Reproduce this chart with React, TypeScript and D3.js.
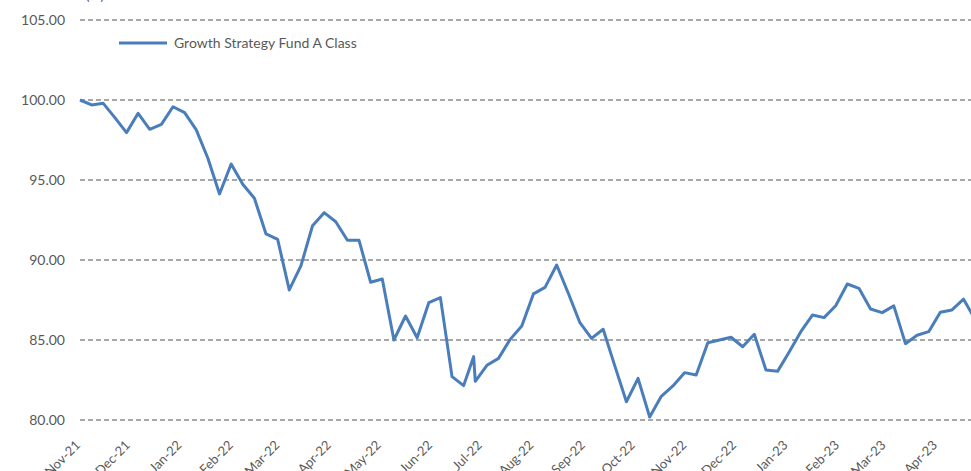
import React, { useEffect, useRef } from 'react';
import * as d3 from 'd3';

// Weekly fund values (indexed to 100 at start)
const dates = [
  '2021-11-05', '2021-11-12', '2021-11-19', '2021-11-26', '2021-12-03', '2021-12-10', '2021-12-17', '2021-12-24',
  '2021-12-31', '2022-01-07', '2022-01-14', '2022-01-21', '2022-01-28', '2022-02-04', '2022-02-11', '2022-02-18',
  '2022-02-25', '2022-03-04', '2022-03-11', '2022-03-18', '2022-03-25', '2022-04-01', '2022-04-08', '2022-04-15',
  '2022-04-22', '2022-04-29', '2022-05-06', '2022-05-13', '2022-05-20', '2022-05-27', '2022-06-03', '2022-06-10',
  '2022-06-17', '2022-06-24', '2022-06-30', '2022-07-01', '2022-07-08', '2022-07-15', '2022-07-22', '2022-07-29',
  '2022-08-05', '2022-08-12', '2022-08-19', '2022-08-26', '2022-09-02', '2022-09-09', '2022-09-16', '2022-09-23',
  '2022-09-30', '2022-10-07', '2022-10-14', '2022-10-21', '2022-10-28', '2022-11-04', '2022-11-11', '2022-11-18',
  '2022-11-25', '2022-12-02', '2022-12-09', '2022-12-16', '2022-12-23', '2022-12-30', '2023-01-06', '2023-01-13',
  '2023-01-20', '2023-01-27', '2023-02-03', '2023-02-10', '2023-02-17', '2023-02-24', '2023-03-03', '2023-03-10',
  '2023-03-17', '2023-03-24', '2023-03-31', '2023-04-07', '2023-04-14', '2023-04-21', '2023-04-28',
];

const fundValues = [
  100.0, 99.69, 99.79, 98.9, 97.96, 99.17, 98.17, 98.48,
  99.58, 99.21, 98.13, 96.36, 94.13, 96.0, 94.73, 93.86,
  91.63, 91.29, 88.13, 89.63, 92.14, 92.96, 92.39, 91.23,
  91.23, 88.61, 88.81, 85.0, 86.5, 85.14, 87.33, 87.65,
  82.71, 82.15, 83.96, 82.42, 83.42, 83.85, 85.04, 85.88,
  87.88, 88.29, 89.69, 87.92, 86.08, 85.1, 85.67, 83.38,
  81.14, 82.6, 80.19, 81.48, 82.13, 82.96, 82.81, 84.83,
  85.0, 85.17, 84.58, 85.36, 83.13, 83.04, 84.25, 85.52,
  86.56, 86.4, 87.14, 88.5, 88.23, 86.94, 86.71, 87.13,
  84.77, 85.3, 85.52, 86.73, 86.88, 87.55, 86.28,
];

const seriesName = 'Growth Strategy Fund A Class';
const yTicks = [80, 85, 90, 95, 100, 105];
const monthTicks = [
  '2021-11-05', '2021-12-05', '2022-01-05', '2022-02-05', '2022-03-05', '2022-04-05',
  '2022-05-05', '2022-06-05', '2022-07-05', '2022-08-05', '2022-09-05', '2022-10-05',
  '2022-11-05', '2022-12-05', '2023-01-05', '2023-02-05', '2023-03-05', '2023-04-05',
];

const W = 971;
const H = 471;
const FONT = 'Lato, "Open Sans", sans-serif';
const TEXT = '#595959';
const BLUE = '#4A7EBB';

const App: React.FC = () => {
  const svgRef = useRef<SVGSVGElement>(null);

  useEffect(() => {
    if (!svgRef.current) return;
    const svg = d3.select(svgRef.current);
    svg.selectAll('*').remove();

    const parse = d3.timeParse('%Y-%m-%d');
    const data = dates.map((d, i) => ({ date: parse(d) as Date, value: fundValues[i] }));

    const x = d3.scaleTime()
      .domain([parse('2021-11-05') as Date, parse('2023-04-05') as Date])
      .range([80, 937]);

    const y = d3.scaleLinear().domain([80, 105]).range([420, 20]);

    // unit label, mostly cut off at the top
    svg.append('text')
      .attr('x', 95)
      .attr('y', 0)
      .attr('text-anchor', 'middle')
      .style('font-family', FONT)
      .style('font-size', '14px')
      .style('fill', TEXT)
      .text('(%)');

    // gridlines + y labels
    const grid = svg.append('g');
    grid.selectAll('line')
      .data(yTicks)
      .join('line')
      .attr('x1', 80)
      .attr('x2', W)
      .attr('y1', d => y(d))
      .attr('y2', d => y(d))
      .attr('stroke', '#8a8a8a')
      .attr('stroke-width', 1.5)
      .attr('stroke-dasharray', '5,3');

    grid.selectAll('text')
      .data(yTicks)
      .join('text')
      .attr('x', 65)
      .attr('y', d => y(d))
      .attr('dy', '0.35em')
      .attr('text-anchor', 'end')
      .style('font-family', FONT)
      .style('font-size', '14px')
      .style('fill', TEXT)
      .text(d => d3.format('.2f')(d));

    // x labels, rotated
    const fmt = d3.timeFormat('%b-%y');
    svg.append('g')
      .selectAll('text')
      .data(monthTicks.map(d => parse(d) as Date))
      .join('text')
      .attr('transform', d => `translate(${x(d) + 1},${446}) rotate(-45)`)
      .attr('text-anchor', 'end')
      .style('font-family', FONT)
      .style('font-size', '13px')
      .style('fill', TEXT)
      .text(d => fmt(d));

    // series line
    const line = d3.line<{ date: Date; value: number }>()
      .x(d => x(d.date))
      .y(d => y(d.value));

    svg.append('path')
      .datum(data)
      .attr('d', line)
      .attr('fill', 'none')
      .attr('stroke', BLUE)
      .attr('stroke-width', 3)
      .attr('stroke-linejoin', 'round');

    // legend
    const lg = svg.append('g').attr('transform', 'translate(119,43)');
    lg.append('line')
      .attr('x1', 0)
      .attr('x2', 48)
      .attr('stroke', BLUE)
      .attr('stroke-width', 3);
    lg.append('text')
      .attr('x', 55)
      .attr('dy', '0.35em')
      .style('font-family', FONT)
      .style('font-size', '14px')
      .style('fill', TEXT)
      .text(seriesName);
  }, []);

  return (
    <svg
      ref={svgRef}
      width={W}
      height={H}
      style={{ position: 'absolute', left: 0, top: 0, background: '#fff' }}
    />
  );
};

export default App;
